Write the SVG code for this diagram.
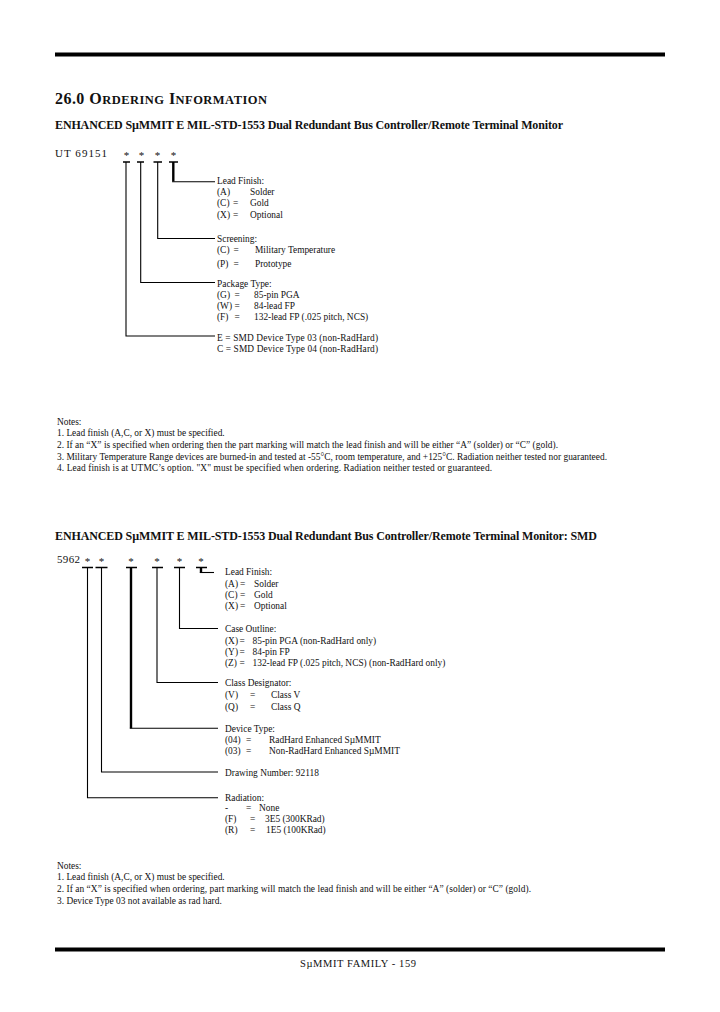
<svg xmlns="http://www.w3.org/2000/svg" width="720" height="1012" viewBox="0 0 720 1012">
<style>
text{font-family:"Liberation Serif","Times New Roman",serif;fill:#111;}
.b{font-size:9.4px;}
.h{font-size:12px;font-weight:bold;}
.pn{font-size:11px;}
.n{font-size:9.4px;}
.ln{stroke:#000;stroke-width:1.1;fill:none;}
.cap{stroke:#000;stroke-width:1.6;fill:none;}
.thk{stroke:#000;stroke-width:2.4;fill:none;}
</style>
<rect width="720" height="1012" fill="#fff"/>
<rect x="55" y="52.5" width="610" height="4" fill="#000"/>
<rect x="55" y="947.5" width="610" height="4" fill="#000"/>

<g id="heading">
<text x="55" y="104" font-weight="bold" font-size="16" textLength="212">26.0 O<tspan font-size="12.5">RDERING</tspan> I<tspan font-size="12.5">NFORMATION</tspan></text>
<text class="h" x="55" y="129" textLength="508">ENHANCED SµMMIT E MIL-STD-1553 Dual Redundant Bus Controller/Remote Terminal Monitor</text>
</g>

<!-- Diagram 1 -->
<g id="pn1">
<text class="pn" x="55" y="157" textLength="52">UT 69151</text>
<text class="pn" text-anchor="middle" x="126.5" y="159">*</text>
<text class="pn" text-anchor="middle" x="141.5" y="159">*</text>
<text class="pn" text-anchor="middle" x="157.5" y="159">*</text>
<text class="pn" text-anchor="middle" x="173.5" y="159">*</text>
</g>
<g id="connectors1">
<path class="cap" d="M123 162H130 M137 162H144 M153.5 162H162 M169 162H178"/>
<path class="ln" d="M126 162V336H215 M140.7 162V282.5H215 M157.7 162V238.5H215"/>
<path class="thk" d="M173.3 162V181.5"/>
<path class="ln" d="M172.1 181.7H215"/>
</g>
<g id="lead-finish-1" class="b">
<text x="217" y="184">Lead Finish:</text>
<text x="217" y="195">(A)</text><text x="250" y="195">Solder</text>
<text x="217" y="206">(C)</text><text x="233" y="206">=</text><text x="250" y="206">Gold</text>
<text x="217" y="217.5">(X)</text><text x="233" y="217.5">=</text><text x="250" y="217.5">Optional</text>
</g>
<g id="screening-1" class="b">
<text x="217" y="241.5">Screening:</text>
<text x="217" y="252.5">(C)</text><text x="233.5" y="252.5">=</text><text x="255" y="252.5">Military Temperature</text>
<text x="217" y="266.5">(P)</text><text x="233.5" y="266.5">=</text><text x="255" y="266.5">Prototype</text>
</g>
<g id="package-1" class="b">
<text x="217" y="286.5">Package Type:</text>
<text x="217" y="297.5">(G)</text><text x="234.5" y="297.5">=</text><text x="254" y="297.5">85-pin PGA</text>
<text x="217" y="308.5">(W)</text><text x="234.5" y="308.5">=</text><text x="254" y="308.5">84-lead FP</text>
<text x="217" y="320">(F)</text><text x="234.5" y="320">=</text><text x="254" y="320">132-lead FP (.025 pitch, NCS)</text>
</g>
<g id="smd-type-1" class="b">
<text x="217" y="340.5" textLength="161">E = SMD Device Type 03 (non-RadHard)</text>
<text x="217" y="351.5" textLength="161">C = SMD Device Type 04 (non-RadHard)</text>
</g>

<g id="notes-1" class="n">
<text x="57" y="424.5">Notes:</text>
<text x="57" y="435.5">1.  Lead finish (A,C, or X) must be specified.</text>
<text x="57" y="447.5" textLength="501">2.  If an “X” is specified when ordering then the part marking will match the lead finish and will be either “A” (solder) or “C” (gold).</text>
<text x="57" y="459.5" textLength="550">3.  Military Temperature Range devices are burned-in and tested at -55°C, room temperature, and +125°C. Radiation neither tested nor guaranteed.</text>
<text x="57" y="470.5" textLength="435">4.  Lead finish is at UTMC’s option.  "X" must be specified when ordering.  Radiation neither tested or guaranteed.</text>
</g>

<!-- Diagram 2 -->
<g id="heading2">
<text class="h" x="55" y="540" textLength="542">ENHANCED SµMMIT  E MIL-STD-1553 Dual Redundant Bus Controller/Remote Terminal Monitor: SMD</text>
</g>
<g id="pn2">
<text class="pn" x="57" y="563" textLength="23">5962</text>
<text class="pn" text-anchor="middle" x="87.5" y="565">*</text>
<text class="pn" text-anchor="middle" x="101.5" y="565">*</text>
<text class="pn" text-anchor="middle" x="131" y="565">*</text>
<text class="pn" text-anchor="middle" x="157" y="565">*</text>
<text class="pn" text-anchor="middle" x="179.5" y="565">*</text>
<text class="pn" text-anchor="middle" x="201" y="565">*</text>
</g>
<g id="connectors2">
<path class="cap" d="M82 567.5H93 M95.5 567.5H107.5 M126 567.5H137 M152 567.5H163 M174 567.5H185 M196 567.5H207"/>
<path class="ln" d="M87.5 567.5V797.7H218 M101.5 567.5V772H218 M157 567.5V682.5H218 M179.5 567.5V628.5H218"/>
<path class="thk" d="M131 567.5V728.3"/>
<path class="ln" d="M129.8 728.3H218"/>
<path class="thk" d="M201 567.5V572.5"/>
<path class="ln" d="M199.8 572.5H214"/>
</g>
<g id="lead-finish-2" class="b">
<text x="225" y="574.5">Lead Finish:</text>
<text x="225" y="586.5">(A)</text><text x="240" y="586.5">=</text><text x="254" y="586.5">Solder</text>
<text x="225" y="597.5">(C)</text><text x="240" y="597.5">=</text><text x="254" y="597.5">Gold</text>
<text x="225" y="609">(X)</text><text x="240" y="609">=</text><text x="254" y="609">Optional</text>
</g>
<g id="case-outline-2" class="b">
<text x="225" y="631.5">Case Outline:</text>
<text x="225" y="643.5">(X)</text><text x="239.5" y="643.5">=</text><text x="252.5" y="643.5">85-pin PGA (non-RadHard only)</text>
<text x="225" y="655">(Y)</text><text x="239.5" y="655">=</text><text x="252.5" y="655">84-pin FP</text>
<text x="225" y="666">(Z)</text><text x="239.5" y="666">=</text><text x="252.5" y="666">132-lead FP (.025 pitch, NCS) (non-RadHard only)</text>
</g>
<g id="class-2" class="b">
<text x="225" y="686">Class Designator:</text>
<text x="225" y="697.5">(V)</text><text x="250" y="697.5">=</text><text x="271" y="697.5">Class V</text>
<text x="225" y="709.5">(Q)</text><text x="250" y="709.5">=</text><text x="271" y="709.5">Class Q</text>
</g>
<g id="device-2" class="b">
<text x="225" y="731.5">Device Type:</text>
<text x="225" y="742.5">(04)</text><text x="246" y="742.5">=</text><text x="269" y="742.5">RadHard Enhanced SµMMIT</text>
<text x="225" y="754">(03)</text><text x="246" y="754">=</text><text x="269" y="754">Non-RadHard Enhanced SµMMIT</text>
</g>
<g id="drawing-2" class="b">
<text x="225" y="776">Drawing Number: 92118</text>
</g>
<g id="radiation-2" class="b">
<text x="225" y="800.5">Radiation:</text>
<text x="225" y="811">-</text><text x="246" y="811">=</text><text x="259" y="811">None</text>
<text x="225" y="822">(F)</text><text x="250" y="822">=</text><text x="265" y="822">3E5 (300KRad)</text>
<text x="225" y="833">(R)</text><text x="250" y="833">=</text><text x="266" y="833">1E5 (100KRad)</text>
</g>

<g id="notes-2" class="n">
<text x="57" y="868.5">Notes:</text>
<text x="57" y="879.5">1.  Lead finish (A,C, or X) must be specified.</text>
<text x="57" y="891.5" textLength="474">2.  If an “X” is specified when ordering, part marking will match the lead finish and will be either “A” (solder) or “C” (gold).</text>
<text x="57" y="903.5">3.  Device Type 03 not available as rad hard.</text>
</g>

<g id="footer">
<text x="358" y="967" text-anchor="middle" font-size="10.5" textLength="116">SµMMIT FAMILY - 159</text>
</g>
</svg>
